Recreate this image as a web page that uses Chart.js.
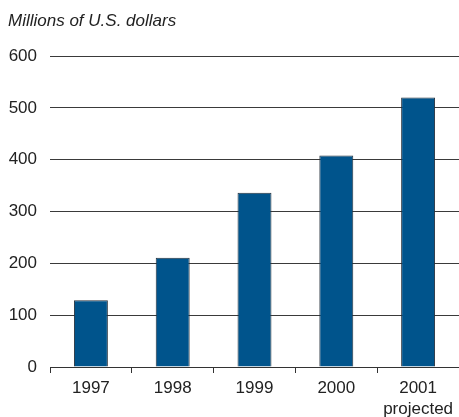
<!DOCTYPE html>
<html>
<head>
<meta charset="utf-8">
<script src="https://cdn.jsdelivr.net/npm/chart.js@4"></script>
<style>
  html, body { margin: 0; padding: 0; background: #fff; }
  #wrap { width: 459px; height: 417px; }
</style>
</head>
<body>
<div id="wrap"><canvas id="c" width="459" height="417"></canvas></div>
<script>
// Annual values, millions of U.S. dollars
const years = [['1997'], ['1998'], ['1999'], ['2000'], ['2001', 'projected']];
const revenue = [129, 211, 336, 408, 520];
const yTicks = [0, 100, 200, 300, 400, 500, 600];
const unitLabel = 'Millions of U.S. dollars';

const FONT = '"Liberation Sans", Arial, sans-serif';

// Italic unit caption above the value axis
const unitCaption = {
  id: 'unitCaption',
  afterDraw(chart) {
    const ctx = chart.ctx;
    ctx.save();
    ctx.font = 'italic 17px ' + FONT;
    ctx.fillStyle = '#222';
    ctx.textBaseline = 'middle';
    ctx.textAlign = 'left';
    ctx.fillText(unitLabel, 8, 21);
    ctx.restore();
  }
};

new Chart(document.getElementById('c'), {
  type: 'bar',
  data: {
    labels: years,
    datasets: [{
      data: revenue,
      backgroundColor: '#00548c',
      borderColor: '#26313d',
      borderWidth: 1,
      categoryPercentage: 1,
      barPercentage: 0.415
    }]
  },
  options: {
    responsive: false,
    animation: false,
    layout: { padding: { top: 56, right: 0, bottom: 0, left: 0 } },
    plugins: {
      legend: { display: false },
      tooltip: { enabled: false },
      title: { display: false }
    },
    scales: {
      x: {
        offset: true,
        grid: {
          offset: true,
          drawOnChartArea: false,
          drawTicks: true,
          tickLength: 6,
          color: (c) => (c.index >= years.length ? 'rgba(0,0,0,0)' : '#333')
        },
        border: { display: true, color: '#333', width: 1 },
        ticks: {
          font: { family: FONT, size: 17, lineHeight: 1.22 },
          color: '#222',
          padding: 5,
          maxRotation: 0,
          autoSkip: false
        },
        afterFit(scale) { scale.height = 50; }
      },
      y: {
        min: 0,
        max: 600,
        afterBuildTicks(scale) { scale.ticks = yTicks.map(v => ({ value: v })); },
        grid: { drawTicks: false, color: '#3a3a3a', lineWidth: 1 },
        border: { display: false },
        ticks: {
          font: { family: FONT, size: 17 },
          color: '#222',
          padding: 13
        },
        afterFit(scale) { scale.width = 50; }
      }
    }
  },
  plugins: [unitCaption]
});
</script>
</body>
</html>
